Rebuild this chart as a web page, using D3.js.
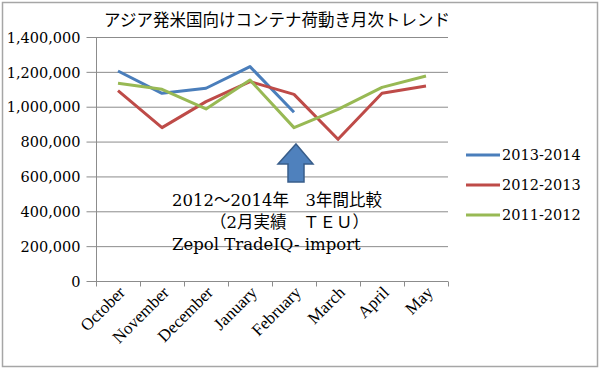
<!DOCTYPE html>
<html>
<head>
<meta charset="utf-8">
<script src="https://cdn.jsdelivr.net/npm/d3@7"></script>
<style>
  body { margin: 0; background: #fff; }
  text { font-family: "DejaVu Serif", "Noto Sans CJK JP", serif; fill: #000; }
  .xlabel { font-family: "Liberation Serif", "DejaVu Serif", serif; }
</style>
</head>
<body>
<svg id="chart"></svg>
<script>
/* ---------- data ---------- */

var months = ["October", "November", "December", "January", "February", "March", "April", "May"];

var s2013_2014 = [1205000, 1077000, 1106000, 1230000, 968000];
var s2012_2013 = [1092000, 880000, 1029000, 1144000, 1071000, 813000, 1077000, 1119000];
var s2011_2012 = [1134000, 1100000, 987000, 1153000, 880000, 985000, 1111000, 1176000];

var seriesNames = ["2013-2014", "2012-2013", "2011-2012"];
var seriesColors = ["#4a7ebb", "#be4b48", "#98b954"];
var yTicks = [0, 200000, 400000, 600000, 800000, 1000000, 1200000, 1400000];

var titleText = "アジア発米国向けコンテナ荷動き月次トレンド";
var noteLines = ["2012～2014年　3年間比較", "（2月実績　ＴＥＵ）", "Zepol TradeIQ- import"];

/* ---------- svg ---------- */

var WIDTH = 600, HEIGHT = 370;
var plot = {left: 96, right: 448, top: 37, bottom: 281};

var svg = d3.select("#chart")
    .attr("width", WIDTH)
    .attr("height", HEIGHT);

// outer frame
svg.append("rect")
    .attr("x", 2.5).attr("y", 2.5)
    .attr("width", 595).attr("height", 364)
    .attr("fill", "#fff")
    .attr("stroke", "#a6a6a6")
    .attr("stroke-width", 1.5);

var x = d3.scaleBand().domain(months).range([plot.left, plot.right]);
var y = d3.scaleLinear().domain([0, 1400000]).range([plot.bottom, plot.top]);

/* ---------- grid + y axis ---------- */

svg.append("g")
    .selectAll("line")
    .data(yTicks.slice(1))
    .enter().append("line")
    .attr("x1", plot.left).attr("x2", plot.right)
    .attr("y1", function(d) { return y(d) + 0.5; })
    .attr("y2", function(d) { return y(d) + 0.5; })
    .attr("stroke", "#8c8c8c")
    .attr("stroke-width", 1);

var yAxis = svg.append("g")
    .attr("transform", "translate(" + (plot.left + 0.5) + ",0)")
    .call(d3.axisLeft(y).tickValues(yTicks).tickSize(10).tickPadding(6)
        .tickFormat(d3.format(",")));
yAxis.attr("font-family", null);
yAxis.select(".domain").attr("stroke", "#8c8c8c").attr("d", "M0," + plot.top + "V" + (plot.bottom + 0.5));
yAxis.selectAll(".tick line").attr("stroke", "#8c8c8c");
yAxis.selectAll(".tick text")
    .attr("font-size", 14.5)
    .attr("dy", "0.36em");

/* ---------- x axis ---------- */

var xAxis = svg.append("g")
    .attr("transform", "translate(0," + (plot.bottom + 0.5) + ")");
xAxis.append("line")
    .attr("x1", plot.left).attr("x2", plot.right)
    .attr("stroke", "#8c8c8c");
xAxis.selectAll(".xtick")
    .data(months.concat(["_end"]))
    .enter().append("line")
    .attr("x1", function(d, i) { return plot.left + i * x.bandwidth() + 0.5; })
    .attr("x2", function(d, i) { return plot.left + i * x.bandwidth() + 0.5; })
    .attr("y1", 0).attr("y2", 5)
    .attr("stroke", "#8c8c8c");
xAxis.selectAll(".xlabel")
    .data(months)
    .enter().append("text")
    .attr("class", "xlabel")
    .attr("text-anchor", "end")
    .attr("font-size", 17)
    .attr("transform", function(d) {
        return "translate(" + (x(d) + x.bandwidth() / 2 + 8) + ",12) rotate(-45)";
    })
    .text(function(d) { return d; });

/* ---------- lines ---------- */

var allSeries = [s2013_2014, s2012_2013, s2011_2012];
var line = d3.line()
    .x(function(d, i) { return x(months[i]) + x.bandwidth() / 2; })
    .y(function(d) { return y(d); });

svg.append("g")
    .selectAll("path")
    .data(allSeries)
    .enter().append("path")
    .attr("d", line)
    .attr("fill", "none")
    .attr("stroke", function(d, i) { return seriesColors[i]; })
    .attr("stroke-width", 3)
    .attr("stroke-linejoin", "round");

/* ---------- title ---------- */

svg.append("text")
    .attr("x", 277).attr("y", 26)
    .attr("text-anchor", "middle")
    .attr("font-size", 16.5)
    .text(titleText);

/* ---------- arrow ---------- */

var ax = x("February") + x.bandwidth() / 2 + 2;
var arrowPts = [[ax, 144], [ax + 17, 164], [ax + 8, 164], [ax + 8, 182],
                [ax - 8, 182], [ax - 8, 164], [ax - 18, 164]];
svg.append("polygon")
    .attr("points", arrowPts.map(function(p) { return p.join(","); }).join(" "))
    .attr("fill", "#4f81bd")
    .attr("stroke", "#385d8a")
    .attr("stroke-width", 1.5);

/* ---------- note ---------- */

var notePos = [[172, 206], [210, 228], [172, 250]];
svg.selectAll(".note")
    .data(noteLines)
    .enter().append("text")
    .attr("x", function(d, i) { return notePos[i][0]; })
    .attr("y", function(d, i) { return notePos[i][1]; })
    .attr("font-size", 16.5)
    .text(function(d) { return d; });

/* ---------- legend ---------- */

var legend = svg.append("g")
    .selectAll("g")
    .data(seriesNames)
    .enter().append("g")
    .attr("transform", function(d, i) { return "translate(466," + (155 + i * 30) + ")"; });
legend.append("line")
    .attr("x1", 0).attr("x2", 34)
    .attr("stroke", function(d, i) { return seriesColors[i]; })
    .attr("stroke-width", 3);
legend.append("text")
    .attr("x", 36).attr("y", 5)
    .attr("font-size", 14.5)
    .text(function(d) { return d; });
</script>
</body>
</html>
